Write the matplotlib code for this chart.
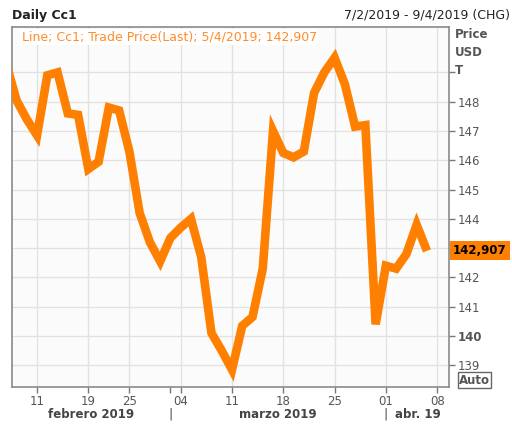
import matplotlib
matplotlib.use("Agg")
import matplotlib.pyplot as plt
import matplotlib.transforms as mtransforms

dates = ["2019-02-06", "2019-02-07", "2019-02-08", "2019-02-11", "2019-02-12", "2019-02-13",
         "2019-02-14", "2019-02-15", "2019-02-19", "2019-02-20", "2019-02-21", "2019-02-22",
         "2019-02-25", "2019-02-26", "2019-02-27", "2019-02-28", "2019-03-01", "2019-03-04",
         "2019-03-05", "2019-03-06", "2019-03-07", "2019-03-08", "2019-03-11", "2019-03-12",
         "2019-03-13", "2019-03-14", "2019-03-15", "2019-03-18", "2019-03-19", "2019-03-20",
         "2019-03-21", "2019-03-22", "2019-03-25", "2019-03-26", "2019-03-27", "2019-03-28",
         "2019-03-29", "2019-04-01", "2019-04-02", "2019-04-03", "2019-04-04", "2019-04-05"]
prices = [149.3, 148.05, 147.4, 146.85, 148.9, 149.0,
          147.6, 147.55, 145.7, 145.95, 147.8, 147.7,
          146.3, 144.2, 143.2, 142.55, 143.35, 143.7,
          144.0, 142.7, 140.1, 139.5, 138.85, 140.35,
          140.65, 142.3, 147.0, 146.25, 146.1, 146.3,
          148.3, 149.0, 149.5, 148.6, 147.15, 147.2,
          140.4, 142.4, 142.3, 142.8, 143.8, 142.907]

tick_dates = ["2019-02-11", "2019-02-19", "2019-02-25", "2019-03-04", "2019-03-11",
              "2019-03-18", "2019-03-25", "2019-04-01", "2019-04-08"]
tick_labels = ["11", "19", "25", "04", "11", "18", "25", "01", "08"]
month_starts = ["2019-03-01", "2019-04-01"]
month_labels = ["febrero 2019", "marzo 2019", "abr. 19"]
y_ticks = [139, 140, 141, 142, 143, 144, 145, 146, 147, 148, 149]
y_labels = ["139", "140", "141", "142", "", "144", "145", "146", "147", "148", ""]
last_value = prices[-1]

# trading-day index positions
pos = {d: i for i, d in enumerate(dates)}
pos["2019-04-08"] = len(dates)  # next trading day after last
xs = list(range(len(dates)))

orange = "#ff8000"
gray = "#555555"

fig = plt.figure(figsize=(5.12, 4.36), dpi=100, facecolor="white")
ax = fig.add_axes([12/512, 1-387/436, (449-12)/512, (387-27)/436])
ax.set_facecolor("#fbfbfb")

ax.plot(xs, prices, color=orange, lw=6.2, solid_joinstyle="miter", solid_capstyle="butt", zorder=3)

xl = pos["2019-02-11"] - 2.44
xr = pos["2019-02-11"] + 40.15
ax.set_xlim(xl, xr)
ax.set_ylim(138.26, 150.55)

tpos = [pos[d] for d in tick_dates]
ax.set_xticks(tpos)
ax.set_xticklabels(tick_labels, fontsize=8.5, color=gray)
ax.set_xticks([pos[month_starts[0]]], minor=True)
ax.tick_params(axis="x", which="both", direction="out", length=4, width=1, color="#777777", pad=2)

ax.yaxis.tick_right()
ax.set_yticks(y_ticks)
ax.set_yticklabels(y_labels, fontsize=8.5, color=gray)
for t in ax.get_yticklabels():
    if t.get_text() == "140":
        t.set_fontweight("bold")
ax.tick_params(axis="y", direction="out", length=4, width=1, color="#777777", pad=2)

ax.grid(True, color="#e2e2e2", lw=1, zorder=0)
for s in ax.spines.values():
    s.set_color("#8a8a8a")
    s.set_linewidth(1.2)

# month labels and separators
trans = mtransforms.blended_transform_factory(ax.transData, ax.transAxes)
m1 = pos[month_starts[0]]
m2 = pos[month_starts[1]]
centers = [(xl + m1) / 2, (m1 + m2) / 2, (m2 + xr) / 2]
for c, lab in zip(centers, month_labels):
    ax.text(c, -0.075, lab, transform=trans, ha="center", va="center",
            fontsize=8.5, fontweight="bold", color="#444444")
for m in (m1, m2):
    ax.text(m, -0.075, "|", transform=trans, ha="center", va="center",
            fontsize=9, color="#444444")

# legend text
last_str = f"{last_value:.3f}".replace(".", ",")
ax.text(0.022, 0.972, "Line; Cc1; Trade Price(Last); 5/4/2019; " + last_str,
        transform=ax.transAxes, ha="left", va="center", fontsize=9, color="#ff8c2a",
        bbox=dict(boxstyle="square,pad=0.12", fc="white", ec="none"), zorder=5)

# titles
fig.text(12/512, 1-15/436, "Daily Cc1", ha="left", va="center", fontsize=9, fontweight="bold", color="#222222")
fig.text(510/512, 1-15/436, "7/2/2019 - 9/4/2019 (CHG)", ha="right", va="center", fontsize=9, color="#222222")

# axis header
for yy, s in zip([35, 52, 70], ["Price", "USD", "T"]):
    fig.text(455/512, 1-yy/436, s, ha="left", va="center", fontsize=8.5, fontweight="bold", color=gray)

# last value tag
ytr = mtransforms.blended_transform_factory(fig.transFigure, ax.transData)
ax.text(453/512, last_value, last_str, transform=ytr,
        ha="left", va="center", fontsize=8.5, fontweight="bold", color="black",
        bbox=dict(boxstyle="square,pad=0.25", fc=orange, ec="none"), clip_on=False, zorder=6)

# Auto box
fig.text(459/512, 1-380/436, "Auto", ha="left", va="center", fontsize=8.5, fontweight="bold", color=gray,
         bbox=dict(boxstyle="square,pad=0.12", fc="white", ec="#666666", lw=1))

fig.savefig("out.png", dpi=100, facecolor=fig.get_facecolor())
